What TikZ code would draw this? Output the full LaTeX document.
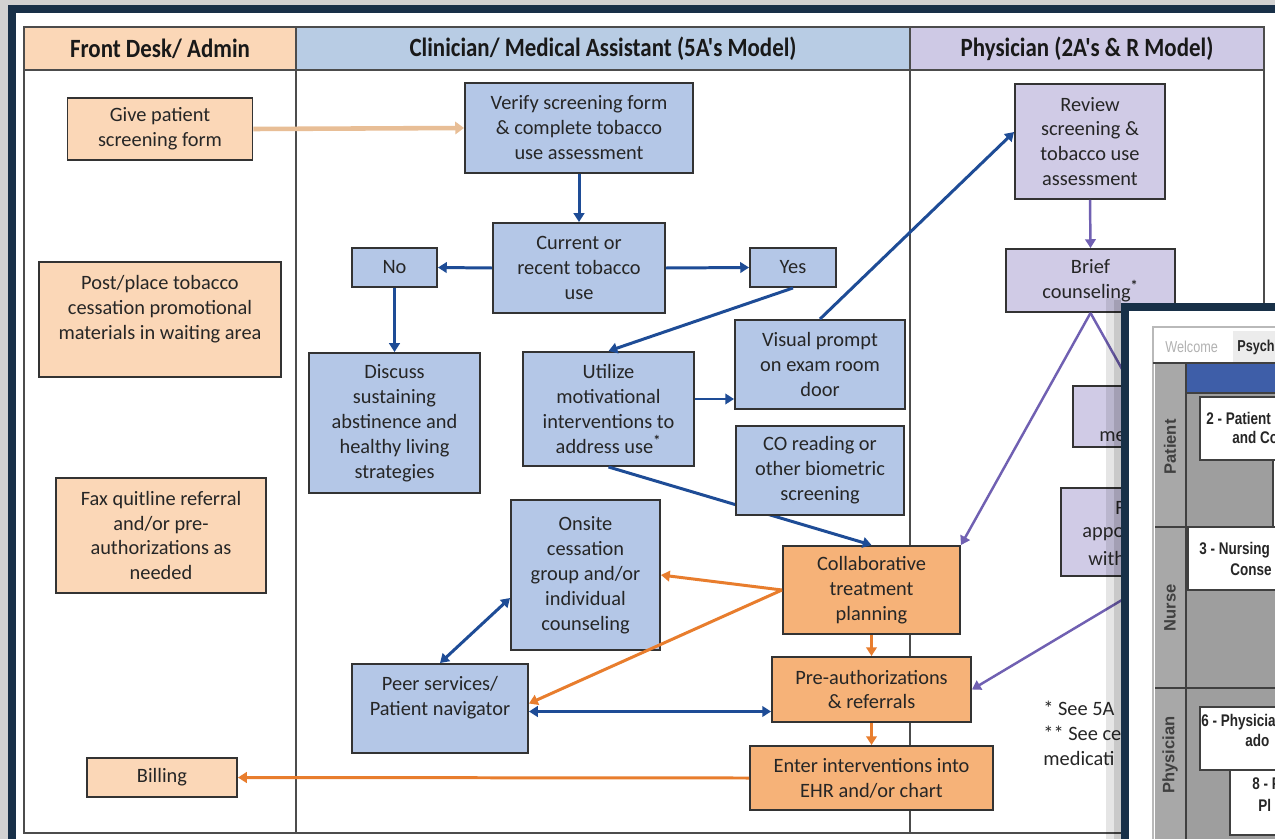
\documentclass[tikz,border=0pt]{standalone}
\usepackage{fontspec}
\setmainfont{Carlito}
\newfontfamily\headfont[FakeStretch=0.87]{Carlito}
\newfontfamily\screenfont{Liberation Sans}
\newfontfamily\screennarrow[FakeStretch=0.8]{Liberation Sans}
\usetikzlibrary{arrows.meta}

\definecolor{framenavy}{RGB}{24, 48, 72}
\definecolor{deskpeach}{RGB}{251, 215, 183}
\definecolor{clinhead}{RGB}{184, 204, 228}
\definecolor{physhead}{RGB}{206, 201, 229}
\definecolor{clinblue}{RGB}{180, 199, 231}
\definecolor{physlav}{RGB}{208, 203, 230}
\definecolor{planorange}{RGB}{246, 178, 120}
\definecolor{arrowblue}{RGB}{30, 76, 150}
\definecolor{arroworange}{RGB}{232, 125, 45}
\definecolor{arrowpurple}{RGB}{112, 96, 178}
\definecolor{arrowtan}{RGB}{232, 190, 150}
\definecolor{screenblue}{RGB}{62, 94, 168}
\definecolor{lanegray}{RGB}{158, 158, 158}
\definecolor{labelgray}{RGB}{168, 168, 168}

\tikzset{
  tableline/.style={draw=black!70, line width=0.85pt},
  lanehead/.style={text=black!90, font={\headfont\bfseries\fontsize{15}{18}\selectfont}},
  flowbox/.style={draw=black!80, line width=1.1pt, align=center, inner sep=2pt, text=black!85, font={\fontsize{11.6}{14.2}\selectfont}},
  deskbox/.style={flowbox, fill=deskpeach},
  clinbox/.style={flowbox, fill=clinblue},
  physbox/.style={flowbox, fill=physlav},
  planbox/.style={flowbox, fill=planorange},
  fragment/.style={anchor=west, inner sep=0pt, text=black!85, font={\fontsize{11.6}{14.2}\selectfont}},
  bluearrow/.style={draw=arrowblue, line width=1.7pt, -{Triangle[length=5pt, width=6pt]}},
  bluedouble/.style={draw=arrowblue, line width=1.7pt, {Triangle[length=5pt, width=6pt]}-{Triangle[length=5pt, width=6pt]}},
  orangearrow/.style={draw=arroworange, line width=1.7pt, -{Triangle[length=5pt, width=6pt]}},
  purplearrow/.style={draw=arrowpurple, line width=1.4pt, -{Triangle[length=5pt, width=6pt]}},
  tanarrow/.style={draw=arrowtan, line width=2.6pt, -{Triangle[length=5pt, width=7pt]}},
  screenline/.style={draw=black!75, line width=0.9pt},
  screentext/.style={anchor=west, inner sep=0pt, text=black!85, font={\screennarrow\bfseries\fontsize{9.6}{11}\selectfont}},
  lanelabel/.style={rotate=90, inner sep=0pt, text=black!75, font={\screenfont\bfseries\fontsize{9.4}{10}\selectfont}},
}

\begin{document}
\begin{tikzpicture}
  \useasboundingbox (0,0) rectangle (25.5,-16.78);
  \clip (0,0) rectangle (25.5,-16.78);

  % Screenshot frame
  \fill[gray!35] (0,0) rectangle (25.5,-16.78);
  \fill[framenavy] (0.16,-0.1) rectangle (27,-18);
  \fill[white] (0.32,-0.26) rectangle (27,-18);

  % Swimlane table
  \fill[deskpeach] (0.48,-0.54) rectangle (5.92,-1.4);
  \fill[clinhead] (5.92,-0.54) rectangle (18.2,-1.4);
  \fill[physhead] (18.2,-0.54) rectangle (25.28,-1.4);
  \draw[tableline] (0.48,-0.54) rectangle (25.28,-16.66);
  \draw[tableline] (0.48,-1.4) -- (25.28,-1.4);
  \draw[tableline] (5.92,-0.54) -- (5.92,-16.66);
  \draw[tableline] (18.2,-0.54) -- (18.2,-16.66);

  \node[lanehead] (hdesk) at (3.2,-0.97) {Front Desk/ Admin};
  \node[lanehead] (hclin) at (12.06,-0.97) {Clinician/ Medical Assistant (5A's Model)};
  \node[lanehead] (hphys) at (21.74,-0.97) {Physician (2A's \& R Model)};

  % Front desk column
  \node[deskbox, minimum width=3.7cm, minimum height=1.24cm] (give) at (3.2,-2.58) {Give patient\\screening form};
  \node[deskbox, minimum width=4.84cm, minimum height=2.3cm] (post) at (3.2,-6.39) {Post/place tobacco\\cessation promotional\\materials in waiting area\\\mbox{}};
  \node[deskbox, minimum width=4.2cm, minimum height=2.3cm] (fax) at (3.22,-10.71) {Fax quitline referral\\and/or pre-\\authorizations as\\needed};
  \node[deskbox, minimum width=3cm, minimum height=0.78cm] (billing) at (3.24,-15.55) {Billing};

  % Clinician column
  \node[clinbox, minimum width=4.56cm, minimum height=1.8cm] (verify) at (11.58,-2.56) {Verify screening form\\\& complete tobacco\\use assessment};
  \node[clinbox, minimum width=3.44cm, minimum height=1.8cm] (current) at (11.58,-5.36) {Current or\\recent tobacco\\use};
  \node[clinbox, minimum width=1.7cm, minimum height=0.78cm] (no) at (7.89,-5.35) {No};
  \node[clinbox, minimum width=1.72cm, minimum height=0.78cm] (yes) at (15.86,-5.35) {Yes};
  \node[clinbox, minimum width=3.42cm, minimum height=2.8cm] (discuss) at (7.89,-8.46) {Discuss\\sustaining\\abstinence and\\healthy living\\strategies};
  \node[clinbox, minimum width=3.42cm, minimum height=2.28cm] (utilize) at (12.17,-8.18) {Utilize\\motivational\\interventions to\\address use\textsuperscript{\textbf{*}}};
  \node[clinbox, minimum width=3.4cm, minimum height=1.78cm] (visual) at (16.4,-7.29) {Visual prompt\\on exam room\\door};
  \node[clinbox, minimum width=2.98cm, minimum height=3cm] (onsite) at (11.71,-11.5) {Onsite\\cessation\\group and/or\\individual\\counseling};
  \node[clinbox, minimum width=3.52cm, minimum height=1.78cm] (peer) at (8.8,-14.17) {Peer services/\\Patient navigator\\\mbox{}};
  \node[planbox, minimum width=3.54cm, minimum height=1.76cm] (collab) at (17.43,-11.8) {Collaborative\\treatment\\planning};
  \node[planbox, minimum width=3.98cm, minimum height=1.3cm] (preauth) at (17.43,-13.79) {Pre-authorizations\\\& referrals};
  \node[planbox, minimum width=4.86cm, minimum height=1.28cm] (enter) at (17.43,-15.56) {Enter interventions into\\EHR and/or chart};

  % Physician column
  \node[physbox, minimum width=3cm, minimum height=2.3cm] (review) at (21.8,-2.83) {Review\\screening \&\\tobacco use\\assessment};
  \node[physbox, minimum width=3.38cm, minimum height=1.26cm] (brief) at (21.81,-5.61) {Brief\\counseling\textsuperscript{\textbf{*}}};
  \node[physbox, minimum width=2.32cm, minimum height=1.22cm] (medbox) at (22.62,-8.33) {};
  \node[physbox, minimum width=3.98cm, minimum height=1.76cm] (fbox) at (23.21,-10.64) {};
  \node[fragment] (medtext) at (21.98,-8.74) {me};
  \node[fragment] (ftext) at (22.3,-10.16) {F};
  \node[fragment] (appotext) at (21.64,-10.68) {appo};
  \node[fragment] (withtext) at (21.76,-11.16) {with};
  \node[fragment, align=left] (notes) at (20.86,-14.67) {* See 5A\\** See ce\\medicati};

  % Connectors
  \draw[tanarrow] (give.east) -- (verify.west);
  \draw[bluearrow] (verify.south) -- (current.north);
  \draw[bluearrow] (current.west) -- (no.east);
  \draw[bluearrow] (current.east) -- (yes.west);
  \draw[bluearrow] (no.south) -- (discuss.north);
  \draw[bluearrow] (yes.south) -- (utilize.north);
  \draw[bluearrow] ([yshift=0.2cm]utilize.east) -- ([yshift=0.2cm]utilize.east -| visual.west);
  \draw[bluearrow] (visual.north) -- ([yshift=0.19cm]review.west);
  \draw[bluearrow] (utilize.south) -- (collab.north);
  \draw[orangearrow] (collab.west) -- (onsite.east);
  \draw[orangearrow] (collab.west) -- ([yshift=0.1cm]peer.east);
  \draw[bluedouble] (peer.north) -- ([yshift=-0.46cm]onsite.west);
  \draw[bluedouble] ([yshift=-0.06cm]peer.east) -- ([yshift=-0.06cm]peer.east -| preauth.west);
  \draw[orangearrow] (collab.south) -- (preauth.north);
  \draw[orangearrow] (preauth.south) -- (enter.north);
  \draw[orangearrow] (enter.west) -- (billing.east);
  \draw[purplearrow] (review.south) -- (brief.north);
  \draw[purplearrow] (brief.south) -- (collab.north east);
  \draw[purplearrow] (brief.south) -- (medbox.north);
  \draw[purplearrow] (fbox.south) -- (preauth.east);

  % CO box sits on top of the utilize -> collab line
  \node[clinbox, minimum width=3.36cm, minimum height=1.78cm] (coread) at (16.4,-9.41) {CO reading or\\other biometric\\screening};

  % Overlaid screenshot, bottom right
  \fill[black, opacity=0.10] (22.12,-5.96) rectangle (22.42,-17);
  \fill[black, opacity=0.12] (22.28,-6.0) rectangle (22.42,-17);
  \fill[framenavy] (22.42,-6.06) rectangle (26,-17);
  \fill[white] (22.58,-6.22) rectangle (26,-17);
  \draw[gray!55, line width=0.8pt, fill=white] (23.06,-6.54) rectangle (26,-17);
  \fill[gray!15] (24.66,-6.62) rectangle (26,-7.26);
  \node[screentext, text=gray!60, font={\screennarrow\fontsize{9}{10}\selectfont}] (twelcome) at (23.3,-6.94) {Welcome};
  \node[screentext, font={\screennarrow\bfseries\fontsize{9}{10}\selectfont}] (tpsych) at (24.74,-6.94) {Psych};
  \fill[labelgray] (23.1,-7.26) rectangle (23.72,-17);
  \fill[screenblue] (23.74,-7.26) rectangle (26,-7.86);
  \fill[lanegray] (23.74,-7.86) rectangle (26,-17);
  \draw[screenline] (23.06,-7.26) -- (26,-7.26);
  \draw[screenline] (23.72,-7.26) -- (23.72,-17);
  \draw[screenline] (23.74,-7.86) -- (26,-7.86);
  \draw[screenline] (23.1,-10.54) -- (26,-10.54);
  \draw[screenline] (23.1,-13.76) -- (26,-13.76);
  \draw[screenline, fill=white] (24.0,-7.94) rectangle (26,-9.2);
  \draw[screenline, fill=white] (25.46,-9.2) rectangle (26,-10.54);
  \draw[screenline, fill=white] (23.76,-10.54) rectangle (26,-11.8);
  \draw[screenline, fill=white] (24.0,-14.14) rectangle (26,-15.4);
  \draw[screenline, fill=white] (24.6,-15.4) rectangle (26,-16.7);
  \node[lanelabel] (lpatient) at (23.4,-8.94) {Patient};
  \node[lanelabel] (lnurse) at (23.4,-12.16) {Nurse};
  \node[lanelabel] (lphysician) at (23.4,-15.1) {Physician};
  \node[screentext] (s2a) at (24.12,-8.36) {2 - Patient};
  \node[screentext] (s2b) at (24.64,-8.74) {and Co};
  \node[screentext] (s3a) at (23.98,-11.0) {3 - Nursing};
  \node[screentext] (s3b) at (24.6,-11.4) {Conse};
  \node[screentext] (s6a) at (24.02,-14.44) {6 - Physicia};
  \node[screentext] (s6b) at (24.9,-14.8) {ado};
  \node[screentext] (s8a) at (25.04,-15.66) {8 - Ph};
  \node[screentext] (s8b) at (25.16,-16.1) {Pl};
\end{tikzpicture}
\end{document}
